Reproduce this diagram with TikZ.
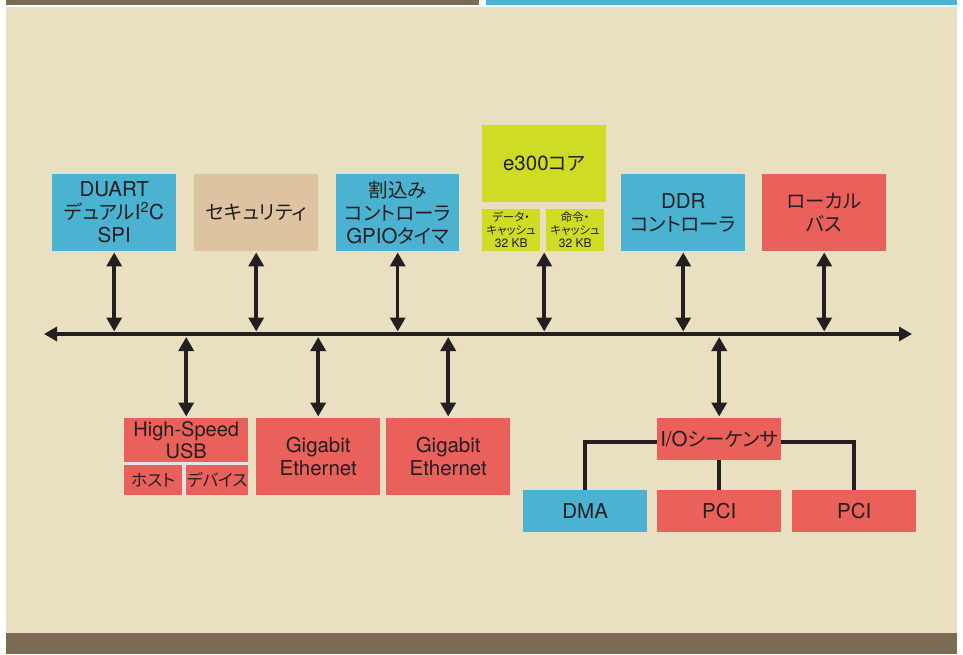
\documentclass[tikz,border=0pt]{standalone}
\usepackage{fontspec}
\setmainfont{TeX Gyre Heros}
\newfontfamily\jp[RawFeature=+palt,Scale=0.95]{Noto Sans CJK JP}
\usetikzlibrary{arrows.meta}
\definecolor{bg}{HTML}{E9E0C2}
\definecolor{brownbar}{HTML}{7B6A54}
\definecolor{cblue}{HTML}{4BB2D2}
\definecolor{ctan}{HTML}{DDC39F}
\definecolor{clime}{HTML}{CEDC25}
\definecolor{cred}{HTML}{EA605A}
\definecolor{ink}{HTML}{231F20}
\definecolor{divider}{HTML}{E6E1E8}
\tikzset{
  box/.style={draw=none, inner sep=0pt, align=center, anchor=north west, text=ink,
    font=\fontsize{20.5}{23}\selectfont},
  small/.style={font=\fontsize{12}{13}\selectfont},
  dbl/.style={{Triangle[length=14pt,width=15pt]}-{Triangle[length=14pt,width=15pt]}, line width=3.5pt, draw=ink},
  busline/.style={{Triangle[length=13pt,width=14pt]}-{Triangle[length=13pt,width=14pt]}, line width=4pt, draw=ink},
  conn/.style={line width=4pt, draw=ink}
}
\begin{document}
\begin{tikzpicture}[x=1pt,y=-1pt]
\useasboundingbox (0,0) rectangle (963,654);
\fill[white] (0,0) rectangle (963,654);
\fill[brownbar] (6,0) rectangle (479,5);
\fill[cblue] (486,0) rectangle (957,5);
\fill[bg] (6,7) rectangle (957,633);
\fill[brownbar] (6,633) rectangle (957,654);

% top row
\node[box, fill=cblue, minimum width=124, minimum height=77] (duart) at (52,174) {DUART\\{\jp デュアル}I\textsuperscript{2}C\\SPI};
\node[box, fill=ctan, minimum width=124, minimum height=77] (sec) at (194,174) {\jp セキュリティ};
\node[box, fill=cblue, minimum width=123, minimum height=77] (intc) at (336,174) {{\jp 割込み}\\{\jp コントローラ}\\GPIO{\jp タイマ}};
\node[box, fill=clime, minimum width=124, minimum height=77] (core) at (482,125) {e300{\jp コア}};
\node[box, small, fill=clime, minimum width=58, minimum height=42] (dcache) at (482,209) {{\jp データ・}\\{\jp キャッシュ}\\32 KB};
\node[box, small, fill=clime, minimum width=58, minimum height=42] (icache) at (546,209) {{\jp 命令・}\\{\jp キャッシュ}\\32 KB};
\node[box, fill=cblue, minimum width=124, minimum height=77] (ddr) at (621,174) {DDR\\{\jp コントローラ}};
\node[box, fill=cred, minimum width=124, minimum height=77] (lbus) at (762,174) {{\jp ローカル}\\{\jp バス}};

% bus
\coordinate (busL) at (44,334);
\coordinate (busR) at (912,334);
\draw[busline] (busL) -- (busR);

% bottom row
\node[box, fill=divider, minimum width=124, minimum height=77] (usb) at (124,418) {};
\node[box, fill=cred, minimum width=124, minimum height=44, font=\fontsize{20}{21}\selectfont] (usbtop) at (124,418) {High-Speed\\USB};
\node[box, fill=cred, minimum width=58, minimum height=30, font=\fontsize{17.5}{19}\selectfont] (host) at (124,465) {\jp ホスト};
\node[box, fill=cred, minimum width=62, minimum height=30, font=\fontsize{17.5}{19}\selectfont] (dev) at (186,465) {\jp デバイス};
\node[box, fill=cred, minimum width=124, minimum height=77] (gbe1) at (256,418) {Gigabit\\Ethernet};
\node[box, fill=cred, minimum width=124, minimum height=77] (gbe2) at (386,418) {Gigabit\\Ethernet};
\node[box, fill=cred, minimum width=124, minimum height=42] (io) at (657,418) {I/O{\jp シーケンサ}};
\node[box, fill=cblue, minimum width=124, minimum height=42] (dma) at (523,490) {DMA};
\node[box, fill=cred, minimum width=124, minimum height=42] (pci1) at (657,490) {PCI};
\node[box, fill=cred, minimum width=124, minimum height=42] (pci2) at (792,490) {PCI};

% top arrows
\draw[dbl, shorten <=1pt, shorten >=2.5pt] (duart.south) -- (duart.south |- busL);
\draw[dbl, shorten <=1pt, shorten >=2.5pt] (sec.south) -- (sec.south |- busL);
\draw[dbl, shorten <=1pt, shorten >=2.5pt] (intc.south) -- (intc.south |- busL);
\draw[dbl, shorten <=1pt, shorten >=2.5pt] (core.south |- dcache.south) -- (core.south |- busL);
\draw[dbl, shorten <=1pt, shorten >=2.5pt] (ddr.south) -- (ddr.south |- busL);
\draw[dbl, shorten <=1pt, shorten >=2.5pt] (lbus.south) -- (lbus.south |- busL);

% bottom arrows
\draw[dbl, shorten <=1.5pt, shorten >=3pt] (usb.north) -- (usb.north |- busL);
\draw[dbl, shorten <=1.5pt, shorten >=3pt] (gbe1.north) -- (gbe1.north |- busL);
\draw[dbl, shorten <=1.5pt, shorten >=3pt] (gbe2.north) -- (gbe2.north |- busL);
\draw[dbl, shorten <=1.5pt, shorten >=3pt] (io.north) -- (io.north |- busL);

% I/O sequencer connections
\draw[conn] ([yshift=-3pt]io.west) -| (dma.north);
\draw[conn] ([yshift=-3pt]io.east) -| (pci2.north);
\draw[conn] (io.south) -- (pci1.north);
\end{tikzpicture}
\end{document}
